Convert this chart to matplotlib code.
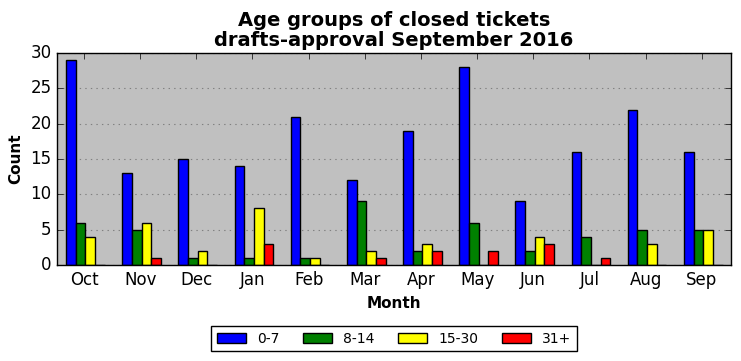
import numpy as np
import matplotlib
matplotlib.use('Agg')
import matplotlib.pyplot as plt

plt.style.use('classic')

months = ['Oct', 'Nov', 'Dec', 'Jan', 'Feb', 'Mar', 'Apr', 'May', 'Jun', 'Jul', 'Aug', 'Sep']
groups = ['0-7', '8-14', '15-30', '31+']
age_0_7 = [29, 13, 15, 14, 21, 12, 19, 28, 9, 16, 22, 16]
age_8_14 = [6, 5, 1, 1, 1, 9, 2, 6, 2, 4, 5, 5]
age_15_30 = [4, 6, 2, 8, 1, 2, 3, 0, 4, 0, 3, 5]
age_31 = [0, 1, 0, 3, 0, 1, 2, 2, 3, 1, 0, 0]
colors = ['blue', 'green', 'yellow', 'red']

fig = plt.figure(figsize=[7.41, 3.61], dpi=100, facecolor='white')
ax = fig.add_axes([57 / 741, 1 - 265 / 361, 674 / 741, 212 / 361])
ax.set_facecolor('#c0c0c0')

x = np.arange(len(months))
w = 0.172
for i, (vals, c, lab) in enumerate(zip([age_0_7, age_8_14, age_15_30, age_31], colors, groups)):
	ax.bar(x + (i - 1.35) * w, vals, w, color=c, edgecolor='black', linewidth=1, label=lab, align='center')

ax.set_xlim(-0.48, 11.52)
ax.set_ylim(0, 30)
ax.set_xticks(x)
ax.set_xticklabels(months)
ax.set_yticks(range(0, 31, 5))
ax.yaxis.grid(True, color='gray', ls=':', lw=0.8)
ax.set_axisbelow(True)

ax.set_title('Age groups of closed tickets\ndrafts-approval September 2016', fontsize=14, fontweight='bold', linespacing=1.1)
ax.set_xlabel('Month', fontsize=11, fontweight='bold')
ax.set_ylabel('Count', fontsize=11, fontweight='bold')

ax.legend(loc='upper center', bbox_to_anchor=(0.5, -0.255), ncol=4, fontsize=10, frameon=True, fancybox=False,
	handlelength=2.1, columnspacing=1.7, borderpad=0.4, handletextpad=0.8)

plt.savefig('out.png', dpi=100, facecolor='white')
